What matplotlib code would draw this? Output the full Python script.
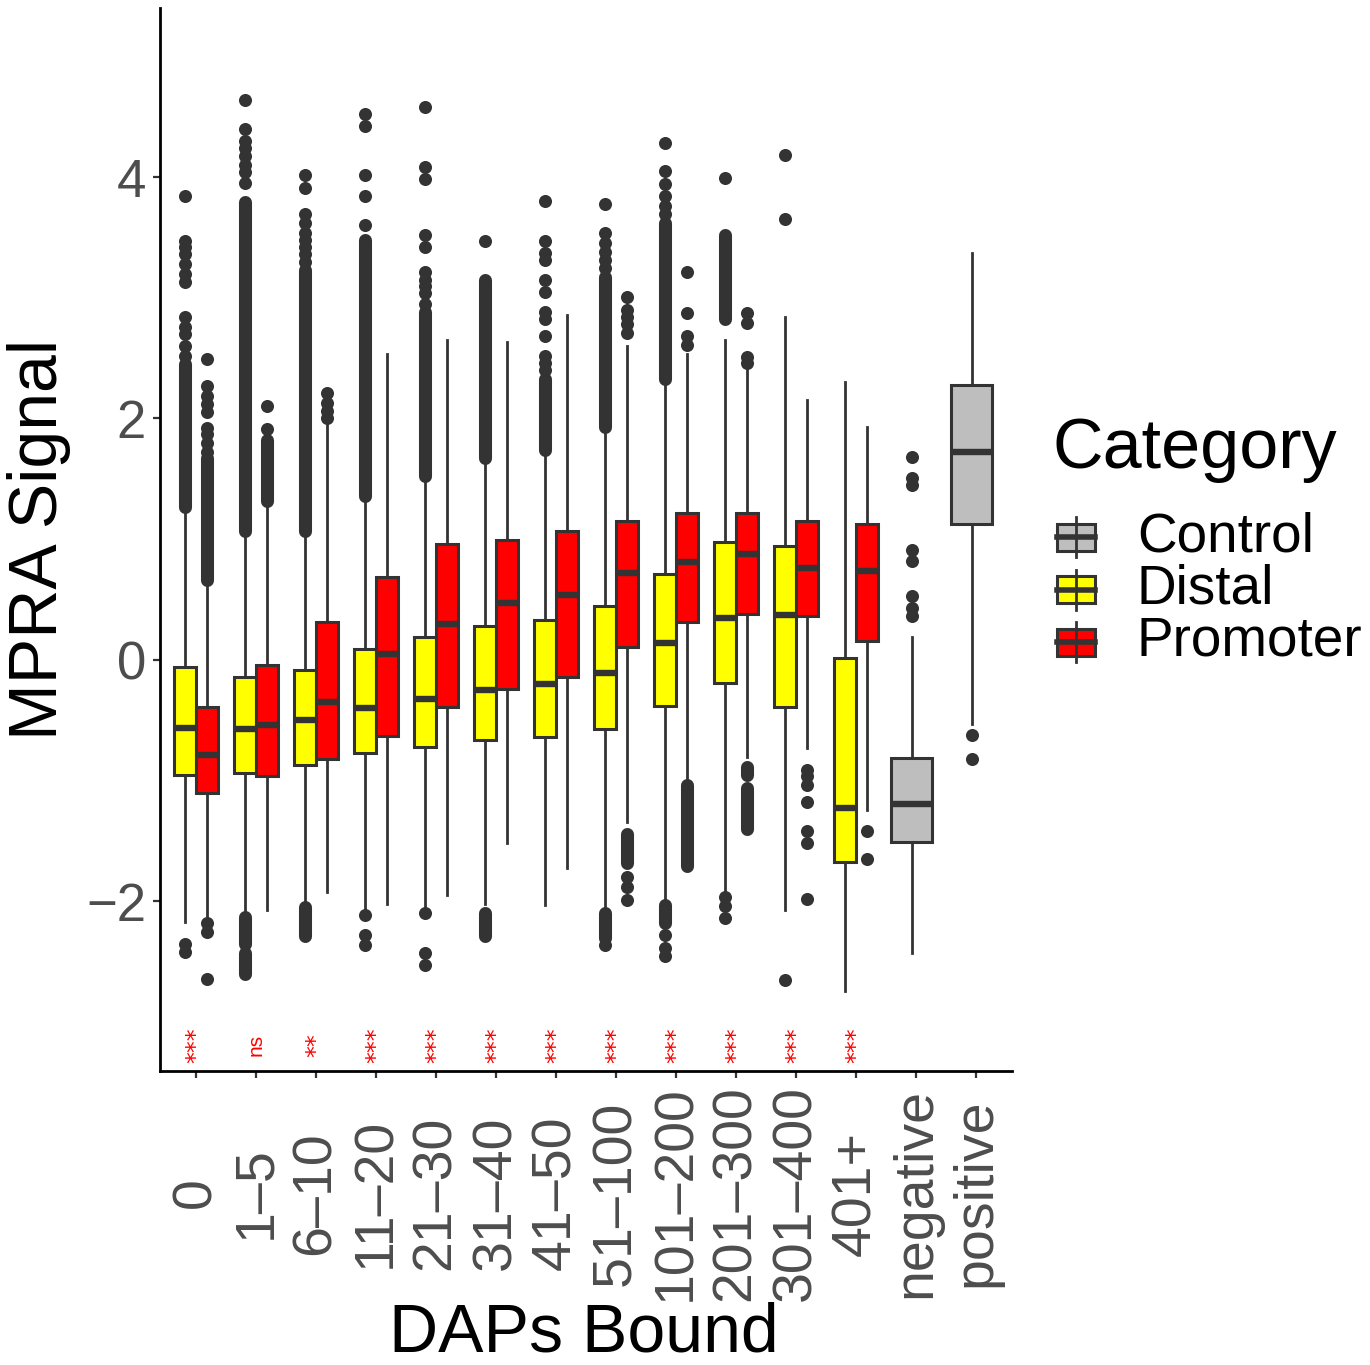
import matplotlib

matplotlib.use("Agg")
import matplotlib.pyplot as plt
import matplotlib.transforms as mtransforms
from matplotlib.patches import Rectangle

plt.rcParams["font.family"] = ["Liberation Sans", "DejaVu Sans"]

# ---- data ----
bins = ["0", "1–5", "6–10", "11–20", "21–30", "31–40", "41–50",
        "51–100", "101–200", "201–300", "301–400", "401+"]
controls = ["negative", "positive"]
sig_labels = ["***", "ns", "**", "***", "***", "***", "***",
              "***", "***", "***", "***", "***"]

distal_q1 = [-0.95, -0.94, -0.87, -0.77, -0.72, -0.66, -0.64, -0.57, -0.38, -0.19, -0.39, -1.67]
distal_med = [-0.56, -0.57, -0.50, -0.40, -0.32, -0.25, -0.20, -0.11, 0.14, 0.35, 0.37, -1.23]
distal_q3 = [-0.055, -0.14, -0.08, 0.09, 0.19, 0.28, 0.33, 0.45, 0.71, 0.98, 0.94, 0.02]
distal_lo = [-2.17, -2.10, -2.02, -2.07, -2.06, -2.02, -2.03, -2.07, -1.99, -1.92, -2.07, -2.74]
distal_hi = [1.25, 1.05, 1.05, 1.34, 1.50, 1.64, 1.72, 1.91, 2.30, 2.65, 2.84, 2.30]
distal_out = [
    [2.52, 2.60, 2.70, 2.76, 2.84, 3.13, 3.20, 3.28, 3.36, 3.42, 3.47, 3.84, -2.35, -2.42],
    [3.95, 4.04, 4.10, 4.17, 4.24, 4.30, 4.40, 4.64],
    [3.30, 3.36, 3.42, 3.48, 3.54, 3.62, 3.69, 3.91, 4.02],
    [3.60, 3.84, 4.02, 4.42, 4.52, -2.11, -2.28, -2.36],
    [2.95, 3.04, 3.10, 3.15, 3.21, 3.42, 3.52, 3.98, 4.08, 4.58, -2.10, -2.43, -2.53],
    [3.47],
    [2.40, 2.46, 2.52, 2.68, 2.82, 2.88, 3.05, 3.15, 3.31, 3.37, 3.47, 3.80],
    [3.25, 3.31, 3.38, 3.45, 3.54, 3.78, -2.36],
    [3.69, 3.76, 3.84, 3.94, 4.05, 4.28, -2.28, -2.39, -2.45],
    [3.99, -1.96, -2.04, -2.14],
    [3.65, 4.18, -2.65],
    [],
]
# runs of overlapping outliers (low, high)
distal_dense = [
    [(1.27, 2.45)],
    [(1.07, 3.79), (-2.35, -2.13), (-2.60, -2.43)],
    [(1.07, 3.23), (-2.29, -2.05)],
    [(1.36, 3.48)],
    [(1.52, 2.88)],
    [(1.67, 3.15), (-2.29, -2.10)],
    [(1.74, 2.33)],
    [(1.93, 3.17), (-2.30, -2.10)],
    [(2.33, 3.62), (-2.18, -2.03)],
    [(2.82, 3.52)],
    [],
    [],
]

prom_q1 = [-1.10, -0.96, -0.82, -0.63, -0.39, -0.24, -0.14, 0.11, 0.31, 0.38, 0.36, 0.16]
prom_med = [-0.79, -0.54, -0.35, 0.05, 0.30, 0.47, 0.54, 0.72, 0.81, 0.88, 0.76, 0.74]
prom_q3 = [-0.39, -0.04, 0.31, 0.69, 0.96, 0.99, 1.07, 1.15, 1.22, 1.22, 1.15, 1.13]
prom_lo = [-2.14, -2.07, -1.92, -2.02, -1.95, -1.52, -1.72, -1.34, -1.02, -0.80, -0.73, -1.24]
prom_hi = [0.64, 1.30, 1.96, 2.53, 2.65, 2.63, 2.86, 2.60, 2.53, 2.40, 2.15, 1.93]
prom_out = [
    [1.72, 1.80, 1.87, 1.92, 2.05, 2.12, 2.19, 2.27, 2.49, -2.18, -2.25, -2.64],
    [1.91, 2.10],
    [2.00, 2.06, 2.13, 2.21],
    [],
    [],
    [],
    [],
    [2.71, 2.78, 2.84, 2.90, 3.01, -1.80, -1.88, -1.99],
    [2.61, 2.68, 2.87, 3.21],
    [2.46, 2.51, 2.79, 2.87],
    [-0.91, -0.96, -1.04, -1.18, -1.42, -1.52, -1.98],
    [-1.42, -1.65],
]
prom_dense = [
    [(0.66, 1.67)],
    [(1.32, 1.82)],
    [],
    [],
    [],
    [],
    [],
    [(-1.68, -1.44)],
    [(-1.71, -1.04)],
    [(-0.95, -0.89), (-1.40, -1.06)],
    [],
    [],
]

ctrl_q1 = [-1.51, 1.13]
ctrl_med = [-1.19, 1.72]
ctrl_q3 = [-0.81, 2.28]
ctrl_lo = [-2.43, -0.53]
ctrl_hi = [0.19, 3.37]
ctrl_out = [
    [0.36, 0.43, 0.53, 0.82, 0.91, 1.45, 1.51, 1.68],
    [-0.62, -0.82],
]

# ---- styling ----
W, H = 1370, 1365
LINE = "#333333"
TXT = "#4D4D4D"
FILLS = {"Control": "#BEBEBE", "Distal": "#FFFF00", "Promoter": "#FF0000"}
DOT = 9.4


def _stats(q1, med, q3, lo, hi, out):
    return [dict(q1=a, med=b, q3=c, whislo=d, whishi=e, fliers=f)
            for a, b, c, d, e, f in zip(q1, med, q3, lo, hi, out)]


def _draw(ax, stats, pos, width, fill):
    ax.bxp(stats, positions=pos, widths=width, patch_artist=True,
           showcaps=False, manage_ticks=False,
           boxprops=dict(facecolor=fill, edgecolor=LINE, linewidth=2.2),
           medianprops=dict(color=LINE, linewidth=4.6, solid_capstyle="butt"),
           whiskerprops=dict(color=LINE, linewidth=2.0),
           flierprops=dict(marker="o", markerfacecolor=LINE, markeredgewidth=0,
                           markersize=DOT, linestyle="none"))


def _draw_dense(ax, pos, dense):
    for x, runs in zip(pos, dense):
        for lo, hi in runs:
            lc = ax.vlines(x, lo, hi, colors=LINE, linewidth=DOT)
            lc.set_capstyle("round")


fig = plt.figure(figsize=(W / 100, H / 100), dpi=100)
ax = fig.add_axes([160 / W, 1 - 1071 / H, (1012 - 160) / W, (1071 - 8) / H])

centers = list(range(1, len(bins) + 1))
pos_d = [c - 0.1875 for c in centers]
pos_p = [c + 0.1875 for c in centers]
pos_c = [len(bins) + 1 + i - 0.07 for i in range(len(controls))]

_draw_dense(ax, pos_d, distal_dense)
_draw_dense(ax, pos_p, prom_dense)
_draw(ax, _stats(distal_q1, distal_med, distal_q3, distal_lo, distal_hi, distal_out),
      pos_d, 0.365, FILLS["Distal"])
_draw(ax, _stats(prom_q1, prom_med, prom_q3, prom_lo, prom_hi, prom_out),
      pos_p, 0.365, FILLS["Promoter"])
_draw(ax, _stats(ctrl_q1, ctrl_med, ctrl_q3, ctrl_lo, ctrl_hi, ctrl_out),
      pos_c, 0.69, FILLS["Control"])

# significance marks
for c, lab in zip(centers, sig_labels):
    if lab == "ns":
        ax.text(c, -3.19, lab, color="red", fontsize=15, rotation=90,
                ha="center", va="center")
    else:
        ax.text(c, -3.19, lab, color="red", fontsize=17, rotation=90,
                ha="center", va="center", family="DejaVu Sans")

ax.set_xlim(0.4, 14.6)
ax.set_ylim(-3.405, 5.40)
ax.set_yticks([-2, 0, 2, 4])
all_labels = bins + controls
ax.set_xticks(range(1, len(all_labels) + 1))
ax.set_xticklabels([])
ax.tick_params(axis="both", length=5, width=1.6, color=LINE)
ax.tick_params(axis="y", labelsize=38, labelcolor=TXT, pad=5)
for side in ("top", "right"):
    ax.spines[side].set_visible(False)
for side in ("left", "bottom"):
    ax.spines[side].set_linewidth(2.0)
    ax.spines[side].set_color("black")

# x tick labels, rotated and centred on a common line
trans = mtransforms.blended_transform_factory(ax.transData, fig.transFigure)
for i, lab in enumerate(all_labels):
    ax.text(i + 1, 1 - 1193 / H, lab, transform=trans, rotation=90,
            ha="center", va="center", fontsize=40, color=TXT, clip_on=False)

fig.text(584 / W, 1 - 1352 / H, "DAPs Bound", fontsize=49,
         ha="center", va="baseline")
fig.text(39 / W, 1 - 540 / H, "MPRA Signal", fontsize=49, rotation=90,
         ha="center", va="center")

# legend drawn in pixel space
lax = fig.add_axes([0, 0, 1, 1], facecolor="none")
lax.set_xlim(0, W)
lax.set_ylim(H, 0)
lax.axis("off")
lax.text(1053, 450, "Category", fontsize=50.5, ha="left", va="center")
for k, name in enumerate(["Control", "Distal", "Promoter"]):
    yc = 537 + 52.5 * k
    lax.plot([1076, 1076], [yc - 20, yc + 20], color=LINE, lw=2.0)
    lax.add_patch(Rectangle((1057, yc - 13.5), 38, 27, facecolor=FILLS[name],
                            edgecolor=LINE, lw=2.2))
    lax.plot([1057, 1095], [yc, yc], color=LINE, lw=4.0)
    lax.text(1137, yc, name, fontsize=39.5, ha="left", va="center")

fig.savefig("out.png", dpi=100)
